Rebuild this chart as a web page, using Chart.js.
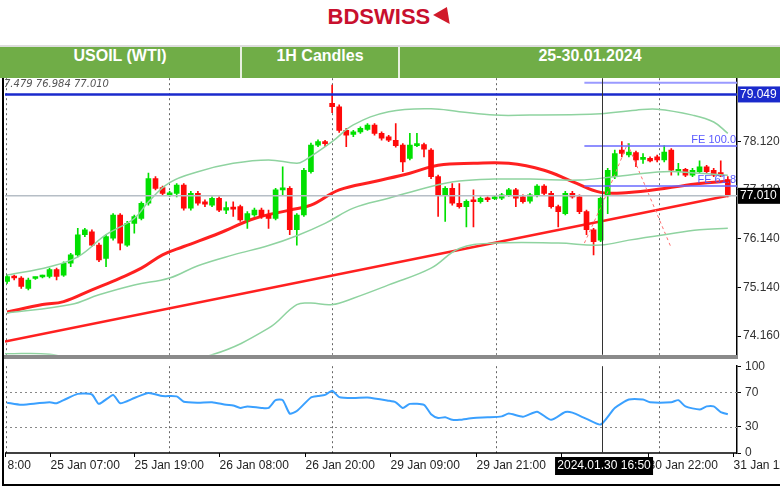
<!DOCTYPE html>
<html><head><meta charset="utf-8">
<script src="https://cdn.jsdelivr.net/npm/chart.js@4.4.1/dist/chart.umd.min.js"></script>
<style>
body{margin:0;width:780px;height:487px;background:#fff;position:relative;overflow:hidden;font-family:"Liberation Sans",Arial,sans-serif}
#logo{position:absolute;top:4px;left:0;width:780px;text-align:center;font:bold 22px "Liberation Sans",Arial;color:#c8102e;letter-spacing:0px}
#logo span{color:#d11a2a}
#hdr{position:absolute;top:45px;left:0;width:780px;height:33px;background:#70ad47;border-top:2px solid #ddd;box-sizing:border-box;z-index:2}
#hdr div{position:absolute;top:0;height:31px;line-height:31px;color:#fff;font:bold 16px "Liberation Sans",Arial;text-align:center}
.sep{position:absolute;top:0;width:2px;height:31px;background:#e8f0e0}
#c1{position:absolute;left:0;top:69px;width:780px;height:295px}
#c2{position:absolute;left:0;top:355px;width:780px;height:132px}
#ohlc{position:absolute;left:4px;top:78px;font:italic 10px "DejaVu Sans",sans-serif;color:#555}
#gsep{position:absolute;left:4px;top:355px;width:734px;height:4px;background:#8a8a8a;z-index:1}
#frameL{position:absolute;left:2px;top:78px;width:2px;height:408px;background:#000}
#frameB{position:absolute;left:2px;top:484px;width:778px;height:2px;background:#000}
</style></head><body>
<div id="logo">BDSWISS <span style="display:inline-block;width:0;height:0;border-left:10px solid transparent;border-right:6px solid transparent;border-top:16px solid #d11a2a;transform:rotate(-30deg);vertical-align:-2px"></span></div>
<div id="c1"><canvas id="main"></canvas></div>
<div id="c2"><canvas id="rsi"></canvas></div>
<div id="hdr">
<div style="left:0;width:240px">USOIL (WTI)</div><div class="sep" style="left:240px"></div>
<div style="left:242px;width:156px">1H Candles</div><div class="sep" style="left:398px"></div>
<div style="left:400px;width:380px">25-30.01.2024</div>
</div>
<div id="ohlc">7.479 76.984 77.010</div>
<div id="gsep"></div><div id="frameL"></div><div id="frameB"></div>
<script>
// candles [open, close, high, low]
const candles = [
[75.27,75.37,75.40,75.23],[75.37,75.34,75.40,75.30],[75.34,75.17,75.37,75.13],[75.13,75.30,75.34,75.10],
[75.33,75.34,75.36,75.31],[75.36,75.37,75.40,75.34],[75.37,75.51,75.54,75.34],[75.51,75.37,75.54,75.30],
[75.40,75.64,75.67,75.37],[75.64,75.81,75.84,75.57],[75.81,76.22,76.35,75.77],[76.22,76.32,76.35,76.18],
[76.28,76.01,76.32,75.98],[76.01,75.71,76.05,75.67],[75.74,76.18,76.22,75.57],[76.15,76.62,76.65,76.11],
[76.62,76.05,76.65,75.91],[76.01,76.45,76.49,75.98],[76.45,76.59,76.62,76.25],[76.55,76.86,76.89,76.52],
[76.86,77.36,77.47,76.82],[77.36,77.16,77.40,77.13],[77.18,77.06,77.21,77.03],[77.03,77.06,77.10,77.00],
[77.06,77.23,77.26,76.99],[77.23,76.76,77.26,76.72],[76.76,77.06,77.10,76.72],[77.06,76.86,77.10,76.82],
[76.89,76.84,76.93,76.79],[76.82,76.96,76.99,76.79],[76.96,76.72,76.99,76.69],[76.72,76.77,76.89,76.65],
[76.76,76.74,76.89,76.59],[76.79,76.52,76.82,76.49],[76.52,76.65,76.69,76.35],[76.62,76.72,76.76,76.59],
[76.72,76.59,76.76,76.55],[76.62,76.55,76.72,76.35],[76.55,77.13,77.16,76.52],[77.13,77.16,77.60,77.03],
[77.16,76.32,77.20,76.22],[76.32,76.62,76.65,76.01],[76.62,77.53,77.57,76.59],[77.50,78.04,78.08,77.47],
[78.04,78.11,78.15,78.01],[78.11,78.07,78.14,78.01],[78.89,78.82,79.26,78.70],[78.82,78.34,78.86,78.30],
[78.34,78.24,78.38,78.01],[78.26,78.31,78.34,78.21],[78.31,78.38,78.41,78.28],[78.36,78.45,78.48,78.34],
[78.45,78.28,78.48,78.24],[78.28,78.18,78.31,78.14],[78.21,78.14,78.24,78.11],[78.14,78.03,78.48,78.00],
[78.04,77.70,78.07,77.50],[77.77,78.04,78.28,77.74],[78.03,78.05,78.28,78.01],[78.05,77.96,78.08,77.80],
[77.94,77.40,77.97,77.36],[77.40,77.03,77.43,76.59],[77.03,77.16,77.20,76.49],[77.16,76.86,77.26,76.82],
[76.86,76.79,77.26,76.76],[76.79,76.90,76.93,76.38],[76.90,76.89,77.13,76.38],[76.89,76.96,76.99,76.86],
[76.96,76.93,76.99,76.89],[76.95,76.97,77.00,76.93],[76.96,77.03,77.06,76.93],[77.03,77.13,77.16,77.00],
[77.13,76.96,77.16,76.79],[76.99,76.89,77.03,76.86],[76.90,77.03,77.06,76.86],[77.03,77.21,77.24,76.99],
[77.21,77.06,77.24,77.03],[77.06,76.79,77.10,76.76],[76.79,76.69,76.82,76.38],[76.65,77.06,77.10,76.62],
[77.06,76.99,77.10,76.96],[76.99,76.69,77.03,76.65],[76.69,76.32,76.72,76.22],[76.32,76.08,76.35,75.81],
[76.11,76.96,76.99,76.08],[77.03,77.53,77.57,76.65],[77.40,77.87,77.94,77.36],[77.94,77.87,78.11,77.80],
[77.84,77.90,78.07,77.80],[77.89,77.74,77.92,77.60],[77.75,77.77,77.87,77.67],[77.77,77.72,77.80,77.70],
[77.80,77.74,77.84,77.70],[77.74,77.90,78.03,77.70],[77.94,77.53,77.97,77.43],[77.50,77.55,77.67,77.43],
[77.55,77.43,77.57,77.40],[77.43,77.53,77.57,77.40],[77.50,77.60,77.72,77.47],[77.60,77.50,77.63,77.47],
[77.53,77.43,77.57,77.40],[77.48,77.43,77.72,77.40],[77.34,77.01,77.40,76.99]];
// moving average (red) [index, value]
const maLine = [[0,74.65],[5,74.80],[8,74.86],[12,75.10],[16,75.34],[19,75.54],[22,75.81],[25,75.98],[30,76.25],[35,76.55],[40,76.72],[43,76.82],[47,77.13],[52,77.30],[57,77.47],[61,77.63],[66,77.67],[71,77.67],[76,77.53],[80,77.30],[84,77.08],[88,77.08],[93,77.16],[98,77.26],[102,77.31]];
const trendLine = [[-0.3,74.05],[102,77.01]];
const bbUpper = [[0,75.40],[6,75.57],[10,75.77],[14,76.22],[18,76.55],[20,76.89],[23,77.28],[27,77.50],[32,77.67],[37,77.74],[41,77.67],[42,77.72],[46,78.11],[49,78.45],[54,78.72],[60,78.78],[64,78.72],[69,78.65],[74,78.65],[81,78.66],[84,78.68],[89,78.75],[92,78.77],[97,78.65],[100,78.51],[102,78.28]];
const bbMiddle = [[0,74.63],[9,74.80],[13,75.00],[18,75.20],[23,75.34],[27,75.59],[32,75.81],[37,76.00],[41,76.20],[45,76.45],[49,76.76],[54,76.96],[60,77.20],[64,77.31],[69,77.35],[74,77.35],[81,77.33],[86,77.40],[93,77.50],[98,77.47],[102,77.43]];
const bbLower = [[-0.3,73.80],[6,73.79],[12,73.60],[20,73.55],[29,73.78],[37,74.32],[41,74.80],[43,74.83],[46,74.80],[49,74.93],[54,75.20],[60,75.54],[64,75.94],[69,76.05],[78,76.05],[84,76.01],[88,76.11],[93,76.22],[98,76.32],[102,76.35]];
const fibZigzag = [[81.7,76.05],[85,77.09],[87.8,78.07],[94,75.95]];
const levelTop = 79.07, levelTopLabel = "79.049", levelLight = 79.31;
const fe100 = 78.02, fe618 = 77.21, lastPrice = 77.01, lastLabel = "77.010";
const priceTicks = [78.12, 77.13, 76.14, 75.14, 74.16];
const rsiPts = [[0,58.0],[2,55.5],[3,56.2],[6,58.4],[7,57.3],[8,60.9],[10,68.1],[12,67.4],[13,56.6],[15,66.9],[16,57.3],[18,63.3],[20,69.2],[22,65.6],[24,65.2],[25,59.1],[27,58.0],[29,58.4],[31,55.5],[32,54.8],[33,51.9],[34,53.7],[36,51.9],[37,51.9],[38,60.9],[39,60.9],[40,45.4],[41,48.3],[43,64.0],[44,65.6],[45,66.9],[46,71.7],[47,64.4],[49,63.3],[51,64.0],[54,60.2],[55,58.4],[56,51.9],[57,56.6],[59,55.5],[60,44.7],[61,40.4],[62,41.1],[63,38.2],[64,38.2],[66,40.4],[68,41.1],[70,42.2],[71,45.4],[73,41.8],[75,47.6],[77,38.2],[79,47.2],[80,46.5],[82,39.3],[84,32.8],[86,51.9],[88,61.6],[90,61.6],[91,58.4],[94,58.4],[95,60.9],[96,53.7],[98,50.1],[99,53.7],[100,53.7],[101,47.2],[102,44.7]];
const rsiTicks = [100,70,30,0];
const timeTicks = [-0.3,6,18,30,42.2,54.2,66.4,78.4,90.7,102.7];
const timeLabels = ["8:00","25 Jan 07:00","25 Jan 19:00","26 Jan 08:00","26 Jan 20:00","29 Jan 09:00","29 Jan 21:00","","30 Jan 22:00","31 Jan 11"];
const gridIdx = [-0.1,22.9,46,69.2,92.3];
const cursorIdx = 84.2, cursorLabel = "2024.01.30 16:50";
const fibStart = 81.7, fibEnd = 103.3;

const X_MIN=-0.3, X_MAX=103.3;
const GREEN='#00e000', RED='#ff0a0a';
const pts = a => a.map(p=>({x:p[0],y:p[1]}));
const up = c => c[1]>=c[0];

function vgrid(chart){
  const {ctx,chartArea:a,scales:{x}}=chart;
  ctx.save();ctx.strokeStyle='#666';ctx.lineWidth=1;ctx.setLineDash([2,3]);
  gridIdx.forEach(g=>{const px=Math.round(x.getPixelForValue(g))+0.5;ctx.beginPath();ctx.moveTo(px,a.top);ctx.lineTo(px,a.bottom);ctx.stroke();});
  ctx.restore();
}
function cursor(chart){
  const {ctx,chartArea:a,scales:{x}}=chart;
  const px=Math.round(x.getPixelForValue(cursorIdx))+0.5;
  ctx.save();ctx.strokeStyle='#333';ctx.lineWidth=1;ctx.beginPath();ctx.moveTo(px,a.top);ctx.lineTo(px,a.bottom);ctx.stroke();ctx.restore();
}
const yAxisFit = s => { s.width = 43; };

const common = {
  responsive:true, maintainAspectRatio:false, animation:false,
  plugins:{legend:{display:false},tooltip:{enabled:false}},
};

new Chart(document.getElementById('main'),{
  data:{datasets:[
    {type:'line',data:[{x:fibStart,y:levelLight},{x:fibEnd,y:levelLight}],borderColor:'#9a9aff',borderWidth:2,pointRadius:0},
    {type:'line',data:[{x:X_MIN,y:levelTop},{x:X_MAX,y:levelTop}],borderColor:'#1a2acc',borderWidth:2.5,pointRadius:0},
    {type:'line',data:[{x:fibStart,y:fe100},{x:fibEnd,y:fe100}],borderColor:'#6a6aff',borderWidth:1.5,pointRadius:0},
    {type:'line',data:[{x:fibStart,y:fe618},{x:fibEnd,y:fe618}],borderColor:'#6a6aff',borderWidth:1.5,pointRadius:0},
    {type:'line',data:[{x:X_MIN,y:lastPrice},{x:X_MAX,y:lastPrice}],borderColor:'#b6bec6',borderWidth:1.5,pointRadius:0},
    {type:'line',data:pts(bbUpper),borderColor:'#8fd3a0',borderWidth:1.5,pointRadius:0,tension:0.4},
    {type:'line',data:pts(bbMiddle),borderColor:'#8fd3a0',borderWidth:1.5,pointRadius:0,tension:0.4},
    {type:'line',data:pts(bbLower),borderColor:'#8fd3a0',borderWidth:1.5,pointRadius:0,tension:0.4},
    {type:'line',data:pts(fibZigzag),borderColor:'#ff7070',borderWidth:1,borderDash:[3,3],pointRadius:0},
    {type:'bar',data:candles.map((c,i)=>({x:i,y:[c[3],c[2]]})),backgroundColor:candles.map(c=>up(c)?GREEN:RED),barThickness:1,grouped:false},
    {type:'bar',data:candles.map((c,i)=>({x:i,y:[Math.min(c[0],c[1]),Math.max(c[0],c[1])]})),backgroundColor:candles.map(c=>up(c)?GREEN:RED),barThickness:5,minBarLength:2,grouped:false},
    {type:'line',data:pts(trendLine),borderColor:'#ff2020',borderWidth:2.5,pointRadius:0},
    {type:'line',data:pts(maLine),borderColor:'#ff2020',borderWidth:3,pointRadius:0,tension:0.4},
  ]},
  options:{...common,
    layout:{padding:{left:5,top:0,bottom:0,right:0}},
    scales:{
      x:{type:'linear',min:X_MIN,max:X_MAX,offset:false,display:false},
      y:{position:'right',min:73.78,max:79.40,afterFit:yAxisFit,
        afterBuildTicks:s=>{s.ticks=priceTicks.map(v=>({value:v}));},
        ticks:{callback:v=>v.toFixed(3),color:'#333',font:{family:'Liberation Sans',size:12},padding:2},
        grid:{drawOnChartArea:false,tickLength:4,color:'#000'},border:{display:true,color:'#000',width:1.5}}
    }
  },
  plugins:[{id:'ov',beforeDatasetsDraw:vgrid,afterDatasetsDraw:cursor,
    afterDraw(chart){
      const {ctx,chartArea:a,scales:{y}}=chart;
      ctx.save();
      ctx.font='12px "Liberation Sans"';ctx.textBaseline='middle';
      let py=y.getPixelForValue(levelTop);
      ctx.fillStyle='#1a2acc';ctx.fillRect(a.right+1,py-8,42,16);ctx.fillStyle='#fff';ctx.fillText(levelTopLabel,a.right+3,py);
      py=y.getPixelForValue(lastPrice);
      ctx.fillStyle='#000';ctx.fillRect(a.right+1,py-8,42,16);ctx.fillStyle='#fff';ctx.fillText(lastLabel,a.right+3,py);
      ctx.font='11px "Liberation Sans"';ctx.fillStyle='#5a5aff';ctx.textAlign='right';ctx.textBaseline='bottom';
      ctx.fillText('FE 100.0',a.right-1,y.getPixelForValue(fe100)-1);
      ctx.fillText('FE 61.8',a.right-1,y.getPixelForValue(fe618)-1);
      ctx.restore();
    }}]
});

new Chart(document.getElementById('rsi'),{
  data:{datasets:[
    {type:'line',data:pts(rsiPts),borderColor:'#3aa0ff',borderWidth:2,pointRadius:0,tension:0.2}
  ]},
  options:{...common,
    layout:{padding:{left:5,top:4,bottom:34,right:0}},
    scales:{
      x:{type:'linear',min:X_MIN,max:X_MAX,offset:false,display:false},
      y:{position:'right',min:0,max:100,afterFit:yAxisFit,
        afterBuildTicks:s=>{s.ticks=rsiTicks.map(v=>({value:v}));},
        ticks:{color:'#333',font:{family:'Liberation Sans',size:12},padding:4},
        grid:{drawOnChartArea:false,tickLength:4,color:'#000'},border:{display:true,color:'#000',width:1.5}}
    }
  },
  plugins:[{id:'ov2',
    beforeDatasetsDraw(chart){
      vgrid(chart);
      const {ctx,chartArea:a,scales:{y}}=chart;
      ctx.save();ctx.strokeStyle='#888';ctx.setLineDash([2,3]);
      [70,30].forEach(v=>{const py=Math.round(y.getPixelForValue(v))+0.5;ctx.beginPath();ctx.moveTo(a.left,py);ctx.lineTo(a.right,py);ctx.stroke();});
      ctx.setLineDash([]);ctx.strokeStyle='#000';ctx.lineWidth=1.5;ctx.beginPath();ctx.moveTo(a.left,a.bottom);ctx.lineTo(a.right,a.bottom);ctx.stroke();
      ctx.restore();
    },
    afterDatasetsDraw:cursor,
    afterDraw(chart){
      const {ctx,chartArea:a,scales:{x}}=chart;
      ctx.save();ctx.font='12px "Liberation Sans"';ctx.textBaseline='middle';ctx.fillStyle='#222';ctx.strokeStyle='#000';
      timeTicks.forEach((t,i)=>{const px=Math.round(x.getPixelForValue(t))+0.5;
        ctx.beginPath();ctx.moveTo(px,a.bottom);ctx.lineTo(px,a.bottom+4);ctx.stroke();
        ctx.fillText(timeLabels[i],px+(i==0?2:0),a.bottom+13);});
      const cx=x.getPixelForValue(cursorIdx);
      ctx.fillStyle='#000';ctx.fillRect(cx-47,a.bottom+4,98,18);ctx.fillStyle='#fff';ctx.textAlign='center';
      ctx.fillText(cursorLabel,cx+2,a.bottom+13);
      ctx.restore();
    }}]
});
</script>
</body></html>
